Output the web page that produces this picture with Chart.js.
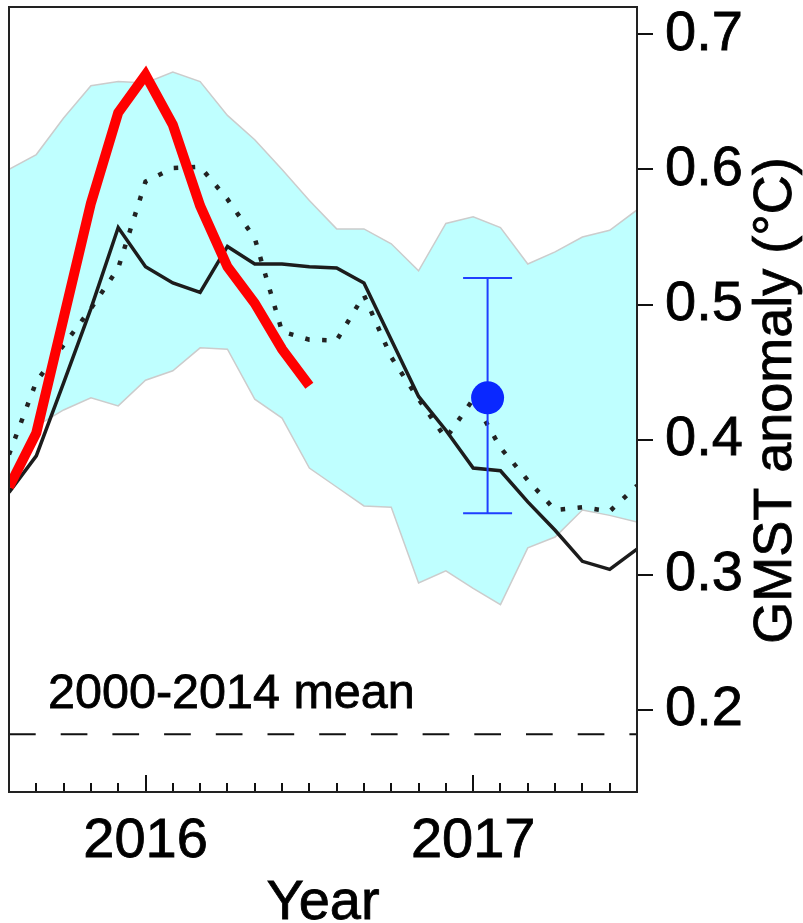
<!DOCTYPE html>
<html>
<head>
<meta charset="utf-8">
<title>GMST anomaly</title>
<script src="https://cdn.jsdelivr.net/npm/chart.js@4.4.1/dist/chart.umd.min.js"></script>
<style>
  html, body { margin: 0; padding: 0; background: #fff; }
  canvas { display: block; }
</style>
</head>
<body>
<canvas id="gmstChart" width="803" height="923"></canvas>
<script>
// Données (mois = début de mois)
const months = [
  "2015-08", "2015-09", "2015-10", "2015-11", "2015-12",
  "2016-01", "2016-02", "2016-03", "2016-04", "2016-05", "2016-06",
  "2016-07", "2016-08", "2016-09", "2016-10", "2016-11", "2016-12",
  "2017-01", "2017-02", "2017-03", "2017-04", "2017-05", "2017-06", "2017-07"
];

// enveloppe (bande cyan)
const bandUpper = [0.600, 0.611, 0.638, 0.662, 0.665, 0.664, 0.672, 0.665, 0.640, 0.622, 0.600, 0.577,
                   0.556, 0.556, 0.545, 0.525, 0.560, 0.565, 0.557, 0.530, 0.539, 0.550, 0.555, 0.570];
const bandLower = [0.360, 0.410, 0.422, 0.431, 0.425, 0.444, 0.451, 0.468, 0.467, 0.430, 0.416, 0.379,
                   0.365, 0.351, 0.350, 0.294, 0.303, 0.290, 0.278, 0.320, 0.328, 0.348, 0.344, 0.339];

// courbe noire continue
const blackLine = [0.361, 0.388, 0.442, 0.497, 0.557, 0.528, 0.516, 0.509, 0.543, 0.530, 0.530, 0.528,
                   0.527, 0.516, 0.474, 0.432, 0.407, 0.379, 0.377, 0.354, 0.333, 0.310, 0.304, 0.319];

// courbe pointillée
const dottedLine = [0.389, 0.443, 0.470, 0.497, 0.527, 0.591, 0.601, 0.602, 0.578, 0.549, 0.480, 0.474,
                    0.4735, 0.507, 0.461, 0.430, 0.401, 0.430, 0.394, 0.370, 0.348, 0.350, 0.347, 0.366];

// courbe rouge (s'arrête en juillet 2016)
const redLine = [0.365, 0.405, 0.490, 0.575, 0.642, 0.670, 0.633, 0.573, 0.528, 0.501, 0.467, 0.440];

// prévision 2017 avec barre d'erreur
const forecastX = [2017.044];
const forecastY = [0.431];
const forecastLow = [0.3455];
const forecastHigh = [0.5196];

// moyenne 2000-2014
const meanValue = 0.182;

const yTicks = [0.2, 0.3, 0.4, 0.5, 0.6, 0.7];
const yearTicks = [2016, 2017];

const FONT = '"Liberation Sans", Arial, sans-serif';

function toYear(m) {
  const [y, mo] = m.split("-").map(Number);
  return y + (mo - 1) / 12;
}

function toPoints(values) {
  return values.map((v, i) => ({ x: toYear(months[i]), y: v }));
}

const xMin = toYear(months[0]);
const xMax = toYear(months[months.length - 1]);
const monthTicks = months.slice(1, -1).map(toYear);

// taille fixe des axes, sans marge auto pour les libellés
function fixSize(prop, size) {
  return s => {
    s[prop] = size;
    s.paddingTop = 0; s.paddingBottom = 0;
    s.paddingLeft = 0; s.paddingRight = 0;
  };
}

function drawText(ctx, text, x, y) {
  ctx.fillText(text, x, y);
  ctx.strokeText(text, x, y);
}

// barre d'erreur + cadre + textes
const decorPlugin = {
  id: "decor",
  beforeDatasetDraw(chart, args) {
    if (args.index !== 0) return;
    const ctx = chart.ctx;
    const xs = chart.scales.x;
    const ys = chart.scales.y;
    ctx.save();
    ctx.strokeStyle = "#1f3fff";
    ctx.lineWidth = 2;
    forecastX.forEach((fx, i) => {
      const px = xs.getPixelForValue(fx);
      const pLow = ys.getPixelForValue(forecastLow[i]);
      const pHigh = ys.getPixelForValue(forecastHigh[i]);
      ctx.beginPath();
      ctx.moveTo(px, pLow); ctx.lineTo(px, pHigh);
      ctx.moveTo(px - 24.5, pLow); ctx.lineTo(px + 24.5, pLow);
      ctx.moveTo(px - 24.5, pHigh); ctx.lineTo(px + 24.5, pHigh);
      ctx.stroke();
    });
    ctx.restore();
  },
  afterDraw(chart) {
    const ctx = chart.ctx;
    const a = chart.chartArea;
    ctx.save();
    ctx.strokeStyle = "#222";
    ctx.lineWidth = 2;
    ctx.strokeRect(a.left, a.top, a.right - a.left, a.bottom - a.top);

    ctx.fillStyle = "#000";
    ctx.strokeStyle = "#000";
    ctx.lineWidth = 0.8;
    ctx.font = "48.5px " + FONT;
    ctx.textAlign = "left";
    ctx.textBaseline = "alphabetic";
    drawText(ctx, "2000-2014 mean", a.left + 39, 708);

    ctx.font = "56px " + FONT;
    ctx.textAlign = "center";
    drawText(ctx, "Year", (a.left + a.right) / 2, 919);

    ctx.font = "54px " + FONT;
    ctx.translate(791, (a.top + a.bottom) / 2 + 1);
    ctx.rotate(-Math.PI / 2);
    drawText(ctx, "GMST anomaly (°C)", 0, 0);
    ctx.restore();
  }
};

const ctx = document.getElementById("gmstChart").getContext("2d");

new Chart(ctx, {
  type: "line",
  data: {
    datasets: [
      {
        label: "forecast",
        data: forecastX.map((x, i) => ({ x: x, y: forecastY[i] })),
        showLine: false,
        pointRadius: 16.5,
        pointBackgroundColor: "#0a28ff",
        pointBorderWidth: 0
      },
      {
        label: "red",
        data: toPoints(redLine),
        borderColor: "#ff0000",
        borderWidth: 10,
        pointRadius: 0,
        clip: 0
      },
      {
        label: "black",
        data: toPoints(blackLine),
        borderColor: "#1c1c1c",
        borderWidth: 3.5,
        pointRadius: 0,
        clip: 0
      },
      {
        label: "dotted",
        data: toPoints(dottedLine),
        borderColor: "#222",
        borderWidth: 4.5,
        borderDash: [4.5, 12.5],
        borderCapStyle: "butt",
        pointRadius: 0,
        clip: 0
      },
      {
        label: "mean",
        data: [{ x: xMin, y: meanValue }, { x: xMax, y: meanValue }],
        borderColor: "#111",
        borderWidth: 2,
        borderDash: [26.7, 25],
        pointRadius: 0,
        clip: 0
      },
      {
        label: "upper",
        data: toPoints(bandUpper),
        borderColor: "#cccccc",
        borderWidth: 1.5,
        backgroundColor: "#bfffff",
        fill: "+1",
        pointRadius: 0,
        clip: 0
      },
      {
        label: "lower",
        data: toPoints(bandLower),
        borderColor: "#cccccc",
        borderWidth: 1.5,
        pointRadius: 0,
        fill: false,
        clip: 0
      }
    ]
  },
  options: {
    responsive: false,
    animation: false,
    devicePixelRatio: 1,
    layout: { autoPadding: false, padding: { left: 9, top: 7, right: 0, bottom: 0 } },
    plugins: {
      legend: { display: false },
      tooltip: { enabled: false },
      filler: { drawTime: "beforeDatasetsDraw" }
    },
    scales: {
      x: {
        type: "linear",
        position: "bottom",
        weight: 1,
        min: xMin,
        max: xMax,
        afterBuildTicks: s => { s.ticks = yearTicks.map(v => ({ value: v })); },
        afterFit: fixSize("height", 131),
        border: { display: false },
        grid: { drawOnChartArea: false, tickLength: -17, lineWidth: 2, color: "#111" },
        ticks: {
          autoSkip: false,
          maxRotation: 0,
          padding: 33,
          color: "#000",
          textStrokeColor: "#000",
          textStrokeWidth: 0.8,
          font: { family: FONT, size: 56 },
          callback: v => String(Math.round(v))
        }
      },
      xm: {
        type: "linear",
        position: "bottom",
        weight: 0,
        min: xMin,
        max: xMax,
        afterBuildTicks: s => { s.ticks = monthTicks.map(v => ({ value: v })); },
        afterFit: fixSize("height", 0),
        border: { display: false },
        grid: { drawOnChartArea: false, tickLength: -9, lineWidth: 2, color: "#111" },
        ticks: { display: false }
      },
      y: {
        type: "linear",
        position: "right",
        min: 0.1393,
        max: 0.7202,
        afterBuildTicks: s => { s.ticks = yTicks.map(v => ({ value: v })); },
        afterFit: fixSize("width", 166),
        border: { display: false },
        grid: { drawOnChartArea: false, tickLength: 16, lineWidth: 2, color: "#111" },
        ticks: {
          padding: 12,
          color: "#000",
          textStrokeColor: "#000",
          textStrokeWidth: 0.8,
          font: { family: FONT, size: 56 },
          callback: v => v.toFixed(1)
        }
      }
    }
  },
  plugins: [decorPlugin]
});
</script>
</body>
</html>
